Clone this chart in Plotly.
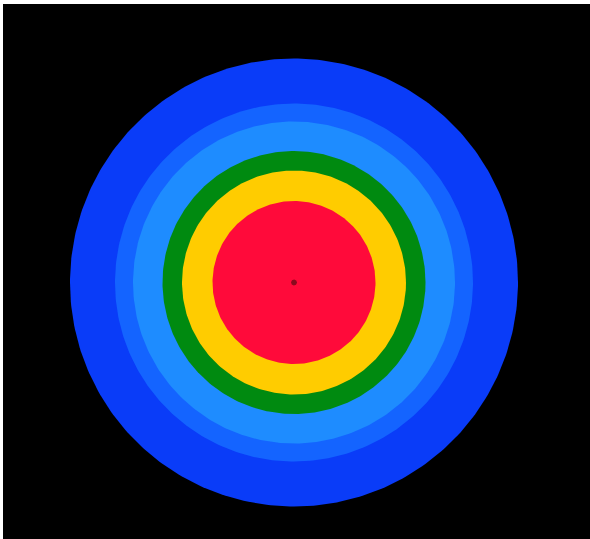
import numpy as np
import plotly.graph_objects as go

# Concentric zones (radius in plot units), outermost first
zone_names = ["Zone 6", "Zone 5", "Zone 4", "Zone 3", "Zone 2", "Zone 1"]
zone_radii = [224, 179, 161, 131.5, 112, 81.5]
zone_colors = ["#0a3cf8", "#1464ff", "#1e8cff", "#008a10", "#ffcc00", "#ff0a3a"]
center_radius = [3]
center_color = ["#8a0a1e"]

theta = np.linspace(0, 2 * np.pi, 361)

fig = go.Figure()
for name, r, c in zip(zone_names, zone_radii, zone_colors):
    fig.add_trace(go.Scatter(
        x=r * np.cos(theta), y=r * np.sin(theta),
        mode="lines", fill="toself", fillcolor=c,
        line=dict(width=0, color=c), name=name, hoverinfo="name",
    ))
for r, c in zip(center_radius, center_color):
    fig.add_trace(go.Scatter(
        x=r * np.cos(theta), y=r * np.sin(theta),
        mode="lines", fill="toself", fillcolor=c,
        line=dict(width=0, color=c), name="Source", hoverinfo="name",
    ))

fig.update_layout(
    width=590, height=539,
    margin=dict(l=3, r=0, t=4, b=0),
    paper_bgcolor="#ffffff",
    plot_bgcolor="#000000",
    showlegend=False,
    xaxis=dict(range=[-291, 296], visible=False, showgrid=False, zeroline=False),
    yaxis=dict(range=[-256.5, 278.5], visible=False, showgrid=False, zeroline=False),
)
fig.write_html(
    "out.html",
    config={"displayModeBar": False},
    post_script=(
        "document.body.style.margin='0';"
        "document.body.style.overflow='hidden';"
        "document.body.style.background='#000000';"
    ),
)
